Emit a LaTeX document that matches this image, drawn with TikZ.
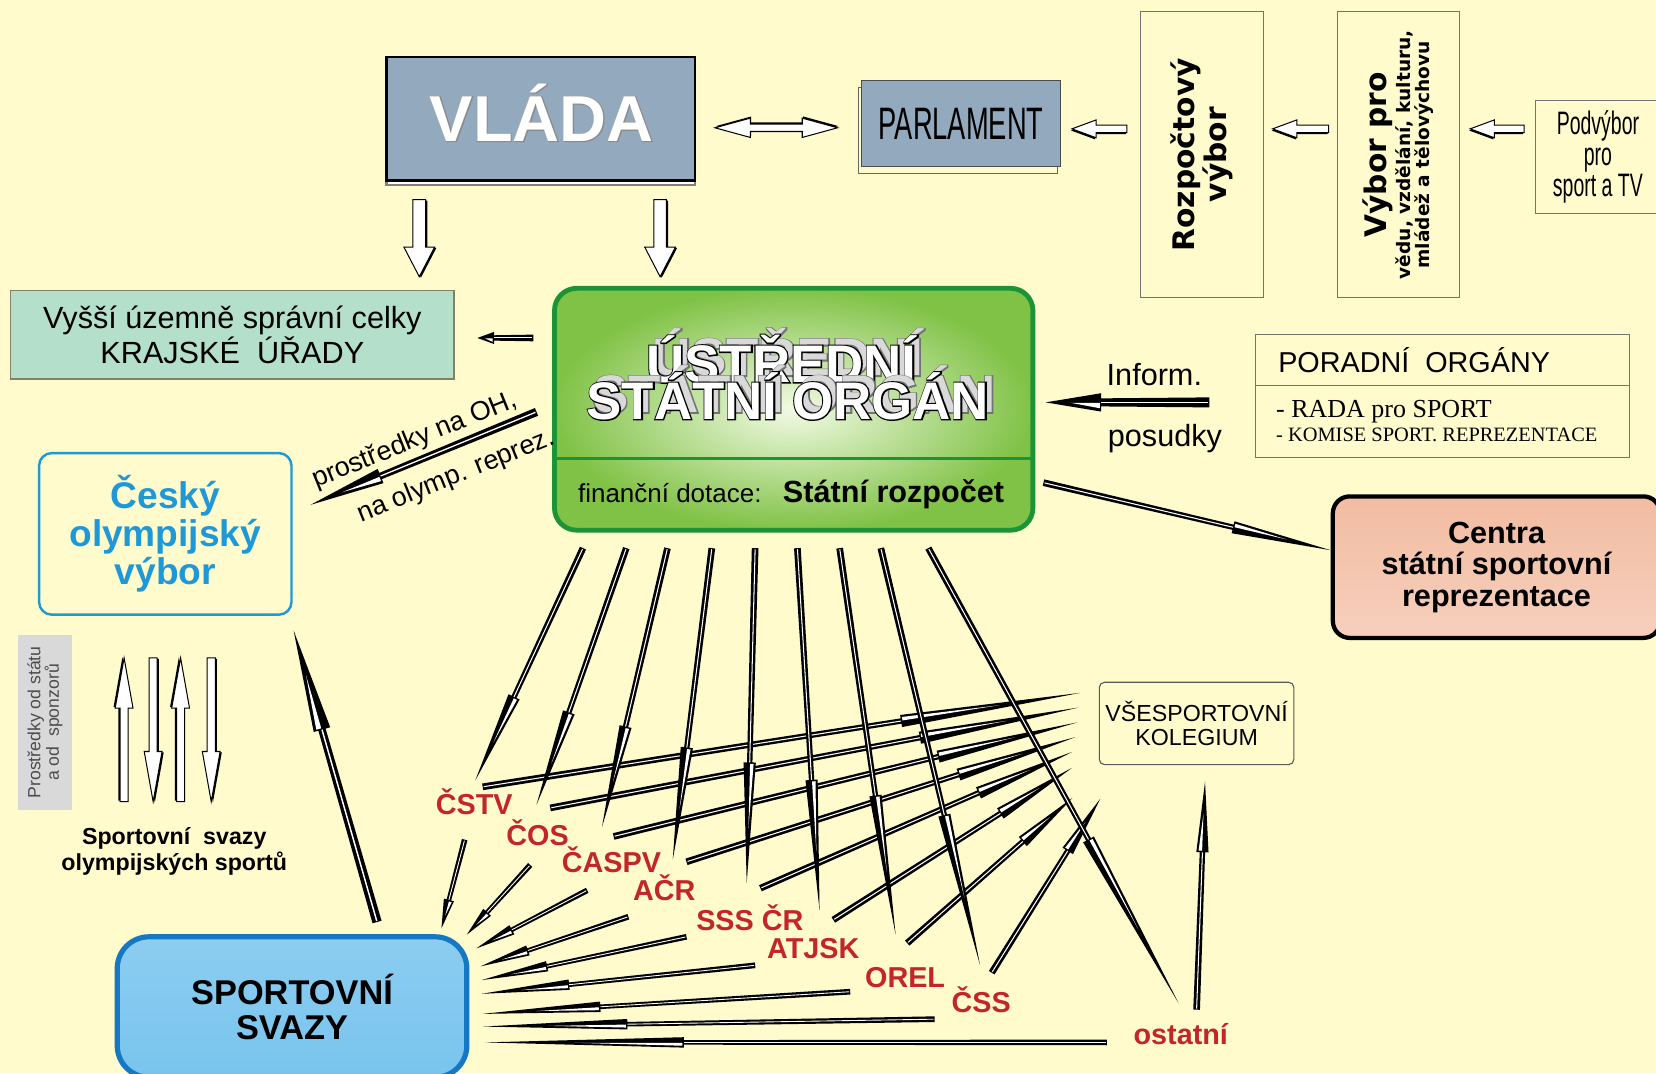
\documentclass[tikz,border=0pt]{standalone}
\usepackage{fontspec}
\setmainfont{Liberation Sans}
\newfontfamily\narrowsf[FakeStretch=0.6]{Liberation Sans}
\newfontfamily\timesrm{Liberation Serif}
\newfontfamily\widesf{DejaVu Sans}
\newfontfamily\fatsf[FakeBold=4.5]{Liberation Sans Bold}
\newfontfamily\halfsf[FakeBold=2]{Liberation Sans Bold}
\usetikzlibrary{positioning,decorations.markings,shadows}

\definecolor{paper}{RGB}{255,251,204}
\definecolor{slate}{RGB}{147,169,189}
\definecolor{mint}{RGB}{179,223,203}
\definecolor{olivegray}{RGB}{130,130,100}
\definecolor{leaf}{RGB}{28,148,54}
\definecolor{leaflight}{RGB}{128,194,70}
\definecolor{leafpale}{RGB}{242,250,228}
\definecolor{olymp}{RGB}{30,152,214}
\definecolor{svazblue}{RGB}{20,120,195}
\definecolor{skyblue}{RGB}{120,196,238}
\definecolor{salmon}{RGB}{240,176,145}
\definecolor{clubred}{RGB}{196,36,44}

\newcommand{\sz}[2]{\fontsize{#1}{#2}\selectfont}

\tikzset{
  qhead/.store in=\qhead, qhead=0.64,
  qw/.store in=\qw, qw=1,
  % needle arrow with a barb part way along
  quill/.style={decorate, decoration={markings, mark=at position 0 with {
      \pgfmathsetmacro{\qLen}{\pgfdecoratedpathlength}
      \pgfmathsetmacro{\qBar}{\qhead*\qLen}
      \pgfmathsetmacro{\qBarIn}{\qBar+0.8}
      \pgfmathsetmacro{\qMid}{\qBar+0.55*(\qLen-\qBar)}
      \pgfmathsetmacro{\qSh}{1.8*\qw}
      \pgfmathsetmacro{\qSt}{1.45*\qw}
      \pgfmathsetmacro{\qHd}{3.3*\qw}
      \pgfmathsetmacro{\qHi}{2.1*\qw}
      \pgfmathsetmacro{\qIn}{0.28*\qw}
      \fill[black] (0pt,\qSh pt) -- (\qBar pt,\qSt pt) -- (\qBar pt,\qHd pt) -- (\qLen pt,0pt)
        -- (\qBar pt,-\qHd pt) -- (\qBar pt,-\qSt pt) -- (0pt,-\qSh pt) -- cycle;
      \fill[white] (0.6pt,\qIn pt) -- (\qBar pt,\qIn pt) -- (\qBar pt,-\qIn pt) -- (0.6pt,-\qIn pt) -- cycle;
      \fill[white] (\qBarIn pt,\qHi pt) -- (\qMid pt,0.2pt) -- (\qBarIn pt,0.2pt) -- cycle;
    }}},
  % hollow block arrow: shaft half width, head half width, head length (pt)
  hollow/.style n args={3}{decorate, decoration={markings, mark=at position 0 with {
      \pgfmathsetmacro{\hLen}{\pgfdecoratedpathlength}
      \pgfmathsetmacro{\hBar}{\hLen-#3}
      \fill[black, shift={(0.5pt,0.9pt)}] (0pt,#1pt) -- (\hBar pt,#1pt) -- (\hBar pt,#2pt) -- (\hLen pt,0pt)
        -- (\hBar pt,-#2pt) -- (\hBar pt,-#1pt) -- (0pt,-#1pt) -- cycle;
      \filldraw[fill=white, line width=0.55pt] (0pt,#1pt) -- (\hBar pt,#1pt) -- (\hBar pt,#2pt) -- (\hLen pt,0pt)
        -- (\hBar pt,-#2pt) -- (\hBar pt,-#1pt) -- (0pt,-#1pt) -- cycle;
    }}},
  hollowboth/.style n args={3}{decorate, decoration={markings, mark=at position 0 with {
      \pgfmathsetmacro{\hLen}{\pgfdecoratedpathlength}
      \pgfmathsetmacro{\hBar}{\hLen-#3}
      \fill[black, shift={(0.5pt,0.9pt)}] (0pt,0pt) -- (#3pt,#2pt) -- (#3pt,#1pt) -- (\hBar pt,#1pt) -- (\hBar pt,#2pt)
        -- (\hLen pt,0pt) -- (\hBar pt,-#2pt) -- (\hBar pt,-#1pt) -- (#3pt,-#1pt) -- (#3pt,-#2pt) -- cycle;
      \filldraw[fill=white, line width=0.55pt] (0pt,0pt) -- (#3pt,#2pt) -- (#3pt,#1pt) -- (\hBar pt,#1pt) -- (\hBar pt,#2pt)
        -- (\hLen pt,0pt) -- (\hBar pt,-#2pt) -- (\hBar pt,-#1pt) -- (#3pt,-#1pt) -- (#3pt,-#2pt) -- cycle;
    }}},
}

\begin{document}
\begin{tikzpicture}[x=2cm, y=2cm,
    txt/.style={inner sep=0pt},
    thinbox/.style={draw=black!55, line width=0.6pt},
    club/.style={text=clubred, font=\bfseries\sz{15.5}{15.5}, text height=11pt, text depth=0pt, inner sep=0pt},
    title3d/.style={anchor=base, inner sep=0pt, font=\bfseries\sz{28.5}{28.5}},
    titlefat/.style={anchor=base, inner sep=0pt, font=\fatsf\sz{28.5}{28.5}},
  ]
% page
\fill[paper] (0,0) rectangle (15.68,-10.16);
\useasboundingbox (0,0) rectangle (15.68,-10.16);

% Government, parliament and committees
\node (vlada) [draw, line width=1.2pt, fill=slate, minimum width=5.84cm, minimum height=2.34cm,
  general shadow={draw=gray, fill=white, shadow yshift=-0.8mm}] at (5.12,-1.125) {};
\node (vladao) [txt, anchor=base, text=black!45, font=\halfsf\sz{35}{35}] at (5.13,-1.34) {VLÁDA};
\node (vladat) [txt, anchor=base, text=white, font=\bfseries\sz{35}{35}] at (5.13,-1.34) {VLÁDA};
\node (parl) [draw=black!70, line width=0.6pt, fill=slate, minimum width=3.76cm, minimum height=1.64cm,
  general shadow={draw=black!60, fill=paper, shadow xshift=-0.6mm, shadow yshift=-1.3mm},
  font=\narrowsf\sz{24.5}{24.5}, text height=17.5pt, text depth=0pt] at (9.10,-1.17) {PARLAMENT};
\node (rozp) [thinbox, minimum width=5.42cm, minimum height=2.32cm, rotate=90, align=center,
  font=\widesf\bfseries\sz{16}{13}] at (11.38,-1.465) {Rozpočtový\\výbor};
\node (vybor) [thinbox, minimum width=5.42cm, minimum height=2.32cm, rotate=90, align=center,
  font=\widesf\bfseries\sz{10}{9}] at (13.24,-1.465)
  {{\sz{16}{16}Výbor pro}\\vědu, vzdělání, kulturu,\\mládež a tělovýchovu};
\node (podv) [thinbox, minimum width=2.36cm, minimum height=2.14cm, align=center,
  font=\narrowsf\sz{17.5}{16.5}] at (15.13,-1.485) {Podvýbor\\pro\\sport a TV};

\coordinate (dbla) at (6.77,-1.21); \coordinate (dblb) at (7.93,-1.21);
\path[hollowboth={2}{5.2}{19}] (dbla) -- (dblb);
\foreach \i/\a/\b in {1/10.67/10.15, 2/12.58/12.05, 3/14.43/13.92}{
  \coordinate (pa\i) at (\a,-1.22); \coordinate (pb\i) at (\b,-1.22);
  \path[hollow={2}{4.8}{13}] (pa\i) -- (pb\i);
}
\coordinate (vd1a) at (3.97,-1.89); \coordinate (vd1b) at (3.97,-2.62);
\coordinate (vd2a) at (6.25,-1.89); \coordinate (vd2b) at (6.25,-2.62);
\path[hollow={3.4}{8.3}{16}] (vd1a) -- (vd1b);
\path[hollow={3.4}{8.3}{16}] (vd2a) -- (vd2b);

% Regions
\node (kraje) [draw=olivegray, line width=0.8pt, fill=mint, minimum width=8.4cm, minimum height=1.68cm,
  align=center, font=\sz{16.5}{17}] at (2.20,-3.17) {Vyšší územně správní celky\\KRAJSKÉ\ \ ÚŘADY};

% Central state body
\node (ustr) [draw=leaf, line width=2.6pt, rounded corners=0.42cm, inner color=leafpale, outer color=leaflight,
  minimum width=9.06cm, minimum height=4.58cm] at (7.515,-3.875) {};
\coordinate (udiv) at (0,-4.34);
\draw[leaf, line width=1.6pt] (ustr.west |- udiv) -- (ustr.east |- udiv);
% extruded title
\node (ustrsa) [titlefat, text=black!55] at ([shift={(3.5pt,3.5pt)}] 7.40,-3.62) {ÚSTŘEDNÍ};
\node (ustrsb) [title3d, text=black!15] at ([shift={(3.5pt,3.5pt)}] 7.40,-3.62) {ÚSTŘEDNÍ};
\node (ustroa) [titlefat, text=black] at (7.40,-3.62) {ÚSTŘEDNÍ};
\node (ustra) [title3d, text=white] at (7.40,-3.62) {ÚSTŘEDNÍ};
\node (ustrsc) [titlefat, text=black!55] at ([shift={(3.5pt,3.5pt)}] 7.46,-3.97) {STÁTNÍ ORGÁN};
\node (ustrsd) [title3d, text=black!15] at ([shift={(3.5pt,3.5pt)}] 7.46,-3.97) {STÁTNÍ ORGÁN};
\node (ustrob) [titlefat, text=black] at (7.46,-3.97) {STÁTNÍ ORGÁN};
\node (ustrb) [title3d, text=white] at (7.46,-3.97) {STÁTNÍ ORGÁN};
\node (dotace) [txt, anchor=base west, font=\sz{14}{14}] at (5.47,-4.76) {finanční dotace:};
\node (rozpocet) [txt, anchor=base west, font=\bfseries\sz{16.5}{16.5}] at (7.41,-4.76) {Státní rozpočet};

\coordinate (kra) at (5.05,-3.20); \coordinate (krb) at (4.52,-3.20);
\path[quill, qhead=0.7, qw=1.0] (kra) -- (krb);

% Advisory bodies
\node (porad) [thinbox, minimum width=7.08cm, minimum height=2.32cm] at (13.66,-3.75) {};
\coordinate (pdiv) at (0,-3.65);
\draw[black!55, line width=0.6pt] (porad.west |- pdiv) -- (porad.east |- pdiv);
\node (poradt) [txt, anchor=base west, font=\sz{15.5}{15.5}] at (12.10,-3.53) {PORADNÍ\ \ ORGÁNY};
\node (rada) [txt, anchor=base west, font=\timesrm\sz{14}{14}] at (12.08,-3.95) {- RADA pro SPORT};
\node (komise) [txt, anchor=base west, font=\timesrm\sz{11}{11}] at (12.08,-4.18) {- KOMISE SPORT. REPREZENTACE};
\node (inform) [txt, anchor=base, font=\sz{16.5}{16.5}] at (10.93,-3.65) {Inform.};
\node (posud) [txt, anchor=base, font=\sz{16.5}{16.5}] at (11.03,-4.23) {posudky};
\coordinate (ifa) at (11.45,-3.81); \coordinate (ifb) at (9.90,-3.81);
\path[quill, qhead=0.66, qw=1.5] (ifa) -- (ifb);

% Sport centres
\node (centra) [draw, line width=2.3pt, rounded corners=0.32cm, top color=salmon!85!white, middle color=salmon!25!white,
  bottom color=salmon!60!white, minimum width=6.2cm, minimum height=2.68cm, align=center,
  font=\bfseries\sz{16.5}{17}] at (14.17,-5.37) {Centra\\státní sportovní\\reprezentace};
\coordinate (cea) at (9.88,-4.57); \coordinate (ceb) at (12.60,-5.21);
\path[quill, qhead=0.66, qw=1.0] (cea) -- (ceb);

% Olympic committee
\node (cov) [draw=olymp, line width=1.3pt, rounded corners=0.24cm, minimum width=4.78cm, minimum height=3.06cm,
  align=center, text=olymp, font=\bfseries\sz{20}{20.5}] at (1.565,-5.055) {Český\\olympijský\\výbor};
\coordinate (oha) at (5.08,-3.90); \coordinate (ohb) at (2.94,-4.78);
\path[quill, qhead=0.69, qw=1.25] (oha) -- (ohb);
\node (prostA) [rotate=22, inner sep=0pt, font=\sz{14.5}{14.5}] at (3.93,-4.17) {prostředky na OH,};
\node (prostB) [rotate=22, inner sep=0pt, font=\sz{14.5}{14.5}] at (4.32,-4.51) {na olymp. reprez.};

\node (sponz) [fill=black!15, minimum width=3.32cm, minimum height=1.02cm, rotate=90, align=center,
  text=black!70, font=\sz{9.5}{10}] at (0.425,-6.84) {Prostředky od státu\\a od\ \ sponzorů};
\foreach \i/\x/\ya/\yb in {1/1.175/-7.59/-6.23, 2/1.45/-6.23/-7.59, 3/1.71/-7.59/-6.23, 4/2.00/-6.23/-7.59}{
  \coordinate (ola\i) at (\x,\ya); \coordinate (olb\i) at (\x,\yb);
  \path[hollow={2.2}{4.8}{27}] (ola\i) -- (olb\i);
}
\node (olsv) [align=center, font=\bfseries\sz{12.5}{14}] at (1.65,-8.06) {Sportovní\ \ svazy\\olympijských sportů};

% Sport federations
\node (svazy) [draw=svazblue, line width=2.8pt, rounded corners=0.6cm, top color=skyblue!85!white, middle color=white,
  bottom color=skyblue, minimum width=6.62cm, minimum height=2.66cm, align=center,
  font=\bfseries\sz{18.5}{19}] at (2.765,-9.535) {SPORTOVNÍ\\SVAZY};
\coordinate (sca) at (3.57,-8.73); \coordinate (scb) at (2.78,-5.97);
\path[quill, qhead=0.66, qw=1.4] (sca) -- (scb);

\node (koleg) [draw=black!65, line width=0.6pt, rounded corners=0.1cm, minimum width=3.68cm, minimum height=1.56cm,
  align=center, font=\sz{12.5}{12.5}] at (11.33,-6.85) {VŠESPORTOVNÍ\\KOLEGIUM};

% member organisations -> kolegium
\foreach \i/\ax/\ay/\bx/\by in {1/4.57/-7.45/10.23/-6.56, 2/5.21/-7.65/10.21/-6.70, 3/5.81/-7.92/10.20/-6.84,
    4/6.50/-8.16/10.18/-6.98, 5/7.20/-8.41/10.15/-7.12, 6/7.89/-8.71/10.15/-7.27,
    7/8.59/-8.93/10.16/-7.55, 8/9.39/-9.21/10.42/-7.56}{
  \coordinate (ka\i) at (\ax,\ay); \coordinate (kb\i) at (\bx,\by);
  \path[quill, qhead=0.7] (ka\i) -- (kb\i);
}
% member organisations -> sportovni svazy
\foreach \i/\ax/\ay/\bx/\by in {1/4.40/-7.95/4.18/-8.79, 2/5.02/-8.19/4.42/-8.85, 3/5.56/-8.43/4.51/-8.98,
    4/5.95/-8.68/4.55/-9.15, 5/6.50/-8.87/4.56/-9.28, 6/7.15/-9.14/4.56/-9.41,
    7/8.05/-9.39/4.57/-9.60, 8/8.85/-9.65/4.57/-9.72, 9/10.48/-9.87/4.59/-9.87}{
  \coordinate (sa\i) at (\ax,\ay); \coordinate (sb\i) at (\bx,\by);
  \path[quill, qhead=0.68, qw=0.85] (sa\i) -- (sb\i);
}
% state body -> member organisations
\foreach \i/\ax/\bx/\by in {1/5.52/4.50/-7.39, 2/5.93/5.08/-7.62, 3/6.32/5.70/-7.83, 4/6.74/6.37/-8.14,
    5/7.15/7.07/-8.36, 6/7.55/7.76/-8.62, 7/7.95/8.48/-8.85, 8/8.34/9.28/-9.14, 9/8.79/11.16/-9.50}{
  \coordinate (ga\i) at (\ax,-5.19); \coordinate (gb\i) at (\bx,\by);
  \path[quill, qhead=0.64] (ga\i) -- (gb\i);
}
\coordinate (osa) at (11.33,-9.56); \coordinate (osb) at (11.41,-7.40);
\path[quill, qhead=0.69, qw=1.0] (osa) -- (osb);

\foreach \nm/\txt/\x/\y in {cstv/ČSTV/4.49/-7.62, cos/ČOS/5.09/-7.91, caspv/ČASPV/5.79/-8.16, acr/AČR/6.29/-8.43,
    sss/SSS ČR/7.10/-8.71, atjsk/ATJSK/7.70/-8.98, orel/OREL/8.57/-9.25, css/ČSS/9.29/-9.49, ost/ostatní/11.18/-9.79}{
  \node (\nm) [club] at (\x,\y) {\txt};
}
\end{tikzpicture}
\end{document}
